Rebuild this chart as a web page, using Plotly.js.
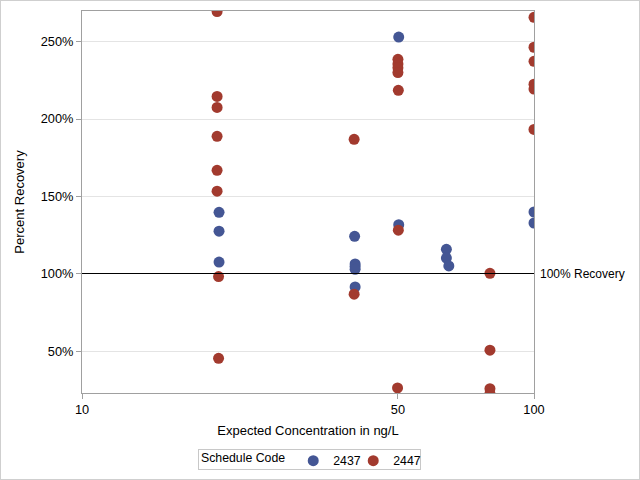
<!DOCTYPE html>
<html>
<head>
<meta charset="utf-8">
<script src="https://cdn.plot.ly/plotly-3.0.1.min.js"></script>
<style>
html,body{margin:0;padding:0;background:#fff;}
#chart{position:absolute;left:0;top:0;width:640px;height:480px;}
#frame{position:absolute;left:0;top:0;width:640px;height:480px;box-sizing:border-box;border:1px solid #cfcfcf;pointer-events:none;}
.shapelayer path{shape-rendering:crispEdges;}
.legend .scrollbox{clip-path:none !important;}
</style>
</head>
<body>
<div id="chart"></div>
<div id="frame"></div>
<script>
// Schedule code 2437
const x2437 = [20.1, 20.1, 20.1, 40.1, 40.2, 40.2, 40.2, 40.2, 50.2, 50.2, 64.0, 64.0, 64.8, 100, 100];
const y2437 = [139.8, 127.6, 107.7, 124.3, 106.5, 104.8, 103.0, 91.6, 252.9, 131.8, 115.9, 110.3, 105.2, 140.0, 132.9];
// Schedule code 2447
const x2447 = [19.9, 19.9, 19.9, 19.9, 19.9, 19.9, 20.05, 20.05, 40.0, 40.0, 50.0, 50.0, 50.0, 50.0, 50.1, 50.1, 49.9, 79.9, 79.9, 79.9, 79.9, 100, 100, 100, 100, 100, 100];
const y2447 = [269.3, 214.6, 207.5, 188.8, 166.9, 153.4, 98.3, 45.6, 186.9, 87.0, 238.5, 235.5, 233.0, 230.0, 218.5, 128.3, 26.5, 100.4, 50.8, 26.0, 22.8, 265.6, 246.3, 237.2, 222.5, 219.3, 193.3];
const seriesNames = ['2437', '2447'];
const seriesColors = ['#445694', '#A23A2E'];
const xTickVals = [10, 50, 100];
const xTickText = ['10', '50', '100'];
const yTickVals = [50, 100, 150, 200, 250];
const yTickText = ['50%', '100%', '150%', '200%', '250%'];
const refValue = 100;
const refLabel = '100% Recovery';

const fam = 'Liberation Sans, Arial, sans-serif';
const font = {family: fam, size: 13, color: '#000'};
const tickFont = {family: fam, size: 12.8, color: '#000'};
const legFont = {family: fam, size: 12.3, color: '#000'};
const annFont = {family: fam, size: 12, color: '#000'};

const traces = [
  {x: x2437, y: y2437, name: seriesNames[0], type: 'scatter', mode: 'markers',
   marker: {color: seriesColors[0], size: 11}, cliponaxis: true},
  {x: x2447, y: y2447, name: seriesNames[1], type: 'scatter', mode: 'markers',
   marker: {color: seriesColors[1], size: 11}, cliponaxis: true}
];

const layout = {
  width: 640, height: 480,
  margin: {l: 82, r: 106, t: 11, b: 87},
  paper_bgcolor: '#fff', plot_bgcolor: '#fff',
  font: font,
  showlegend: true,
  legend: {
    orientation: 'h', xref: 'paper', x: 0.2588, xanchor: 'left',
    yref: 'container', y: 0.0705, yanchor: 'top',
    title: {text: 'Schedule Code', side: 'left', font: legFont},
    bgcolor: 'rgba(0,0,0,0)', borderwidth: 0, font: legFont,
    itemwidth: 30, tracegroupgap: 0,
    entrywidth: 15, entrywidthmode: 'pixels'
  },
  xaxis: {
    type: 'log', range: [1, 2],
    tickvals: xTickVals, ticktext: xTickText,
    ticks: 'outside', ticklen: 5, tickcolor: '#a0a0a0',
    showgrid: false, zeroline: false,
    showline: true, linecolor: '#a0a0a0', linewidth: 1, mirror: true,
    title: {text: 'Expected Concentration in ng/L', font: font, standoff: 9},
    automargin: false, tickfont: tickFont
  },
  yaxis: {
    range: [23.2, 269.7],
    tickvals: yTickVals, ticktext: yTickText,
    ticks: 'outside', ticklen: 5, tickcolor: '#a0a0a0',
    showgrid: true, gridcolor: '#e4e4e4', gridwidth: 1, zeroline: false,
    showline: true, linecolor: '#a0a0a0', linewidth: 1, mirror: true,
    title: {text: 'Percent Recovery', font: font, standoff: 13},
    automargin: false, tickfont: tickFont
  },
  shapes: [
    {type: 'line', xref: 'paper', x0: 0, x1: 1, yref: 'y', y0: refValue, y1: refValue,
     line: {color: '#000', width: 1}},
    // legend frame
    {type: 'rect', xref: 'paper', yref: 'paper', x0: 0.2588, x1: 0.7478, y0: -0.199, y1: -0.1492,
     line: {color: '#c8c8c8', width: 1}, fillcolor: 'rgba(0,0,0,0)', layer: 'below'}
  ],
  annotations: [{xref: 'paper', x: 1, xanchor: 'left', xshift: 4, yref: 'y', y: refValue,
                 text: refLabel, showarrow: false, font: annFont}]
};

Plotly.newPlot('chart', traces, layout, {displayModeBar: false, staticPlot: true});
</script>
</body>
</html>
